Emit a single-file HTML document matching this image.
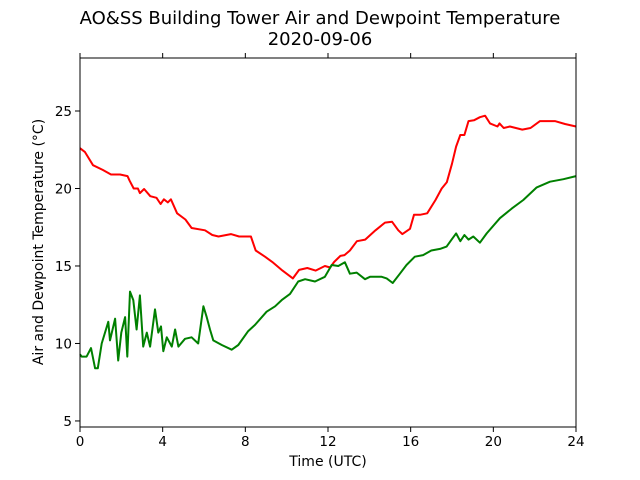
<!DOCTYPE html>
<html><head><meta charset="utf-8"><style>
body{margin:0;background:#fff;}
svg{display:block;font-family:"DejaVu Sans","Liberation Sans",sans-serif;}
</style></head><body>
<svg id="chart" width="640" height="480">
<text x="320" y="24" text-anchor="middle" font-size="18">AO&amp;SS Building Tower Air and Dewpoint Temperature</text>
<text x="320" y="45" text-anchor="middle" font-size="18">2020-09-06</text>
<text x="328" y="466" text-anchor="middle" font-size="14">Time (UTC)</text>
<text transform="translate(43,242) rotate(-90)" text-anchor="middle" font-size="14">Air and Dewpoint Temperature (°C)</text>
<g id="ticks"></g>
<g id="series"></g>
<rect x="80" y="58" width="496" height="369" fill="none" stroke="#000" stroke-width="1"/>
</svg>
<script>
const xTicks=[0,4,8,12,16,20,24];
const yTicks=[5,10,15,20,25];
const airT=[0,0.24,0.63,1.1,1.5,1.94,2.3,2.4,2.6,2.8,2.9,3.1,3.4,3.7,3.9,4.06,4.25,4.4,4.7,5.1,5.4,6.05,6.4,6.7,7.3,7.7,8.27,8.5,8.95,9.3,9.8,10.3,10.6,11.0,11.4,11.85,12.1,12.3,12.6,12.8,13.06,13.4,13.8,14.3,14.76,15.1,15.4,15.6,15.97,16.16,16.45,16.8,17.2,17.5,17.75,18.0,18.2,18.4,18.6,18.8,19.06,19.35,19.6,19.84,20.2,20.3,20.5,20.8,21.4,21.8,22.26,22.98,23.47,24];
const airV=[22.6,22.35,21.5,21.2,20.9,20.9,20.8,20.5,20.0,20.0,19.7,19.97,19.5,19.4,19.0,19.3,19.1,19.3,18.4,18.0,17.45,17.3,17.0,16.9,17.06,16.9,16.9,16.0,15.6,15.26,14.7,14.2,14.75,14.87,14.7,15.0,14.9,15.26,15.65,15.7,16.0,16.6,16.7,17.3,17.8,17.85,17.3,17.06,17.4,18.3,18.3,18.4,19.26,20.0,20.4,21.6,22.7,23.45,23.45,24.35,24.4,24.6,24.7,24.2,24.0,24.2,23.9,24.0,23.8,23.9,24.35,24.35,24.16,24.0];
const dewT=[0,0.08,0.32,0.53,0.73,0.86,1.05,1.37,1.45,1.7,1.85,2.0,2.18,2.29,2.42,2.58,2.74,2.9,3.06,3.23,3.39,3.63,3.79,3.92,4.03,4.2,4.44,4.6,4.76,5.08,5.4,5.72,5.97,6.13,6.29,6.45,6.86,7.34,7.66,8.14,8.47,9.03,9.44,9.76,10.16,10.56,10.89,11.37,11.85,12.18,12.5,12.82,13.06,13.39,13.79,14.03,14.6,14.84,15.13,15.48,15.8,16.2,16.6,17.0,17.42,17.74,17.98,18.2,18.4,18.6,18.8,19.03,19.35,19.68,20.32,20.89,21.45,22.1,22.74,23.39,24];
const dewV=[9.3,9.15,9.15,9.7,8.4,8.4,10.0,11.4,10.2,11.6,8.9,10.7,11.7,9.15,13.35,12.8,10.9,13.1,9.8,10.7,9.8,12.2,10.7,11.1,9.5,10.4,9.8,10.9,9.8,10.3,10.4,10.0,12.4,11.7,10.9,10.2,9.9,9.6,9.9,10.8,11.2,12.05,12.4,12.8,13.2,14.0,14.15,14.0,14.3,15.06,15.0,15.24,14.5,14.57,14.15,14.3,14.3,14.2,13.9,14.5,15.06,15.6,15.7,16.0,16.1,16.25,16.7,17.1,16.6,17.0,16.7,16.9,16.5,17.1,18.08,18.7,19.26,20.07,20.44,20.6,20.8];
const X0=80,X1=576,Y0=427,Y1=58,XMIN=0,XMAX=24,YMIN=4.61,YMAX=28.42;
function xs(t){return X0+(t-XMIN)/(XMAX-XMIN)*(X1-X0);}
function ys(v){return Y0-(v-YMIN)/(YMAX-YMIN)*(Y0-Y1);}
const NS="http://www.w3.org/2000/svg";
const tg=document.getElementById('ticks'),sg=document.getElementById('series');
xTicks.forEach(t=>{
  const x=xs(t);
  const l=document.createElementNS(NS,'line');
  l.setAttribute('x1',x);l.setAttribute('x2',x);l.setAttribute('y1',Y0);l.setAttribute('y2',Y0+5);l.setAttribute('stroke','#000');
  
  
  tg.appendChild(l);
  const l2=document.createElementNS(NS,'line');
  l2.setAttribute('x1',x);l2.setAttribute('x2',x);l2.setAttribute('y1',Y1);l2.setAttribute('y2',Y1-5);l2.setAttribute('stroke','#000');
  
  
  tg.appendChild(l2);
  const tx=document.createElementNS(NS,'text');
  tx.setAttribute('x',x);tx.setAttribute('y',Y0+19);tx.setAttribute('text-anchor','middle');tx.setAttribute('font-size','13.5');
  tx.textContent=t;
  
  
  tg.appendChild(tx);
});
yTicks.forEach(v=>{
  const y=ys(v);
  const l=document.createElementNS(NS,'line');
  l.setAttribute('x1',X0-5);l.setAttribute('x2',X0);l.setAttribute('y1',y);l.setAttribute('y2',y);l.setAttribute('stroke','#000');
  
  
  tg.appendChild(l);
  const tx=document.createElementNS(NS,'text');
  tx.setAttribute('x',X0-8);tx.setAttribute('y',y+5);tx.setAttribute('text-anchor','end');tx.setAttribute('font-size','13.5');
  tx.textContent=v;
  
  
  tg.appendChild(tx);
});
function line(ts,vs,color,name){
  const p=document.createElementNS(NS,'polyline');
  p.setAttribute('points',ts.map((t,i)=>xs(t).toFixed(1)+','+ys(vs[i]).toFixed(1)).join(' '));
  p.setAttribute('fill','none');p.setAttribute('stroke',color);p.setAttribute('stroke-width','2');p.setAttribute('stroke-linejoin','round');
  
  
  sg.appendChild(p);
}
line(airT,airV,'#ff0000','air-temperature-line');
line(dewT,dewV,'#008000','dewpoint-temperature-line');
</script>
</body></html>
